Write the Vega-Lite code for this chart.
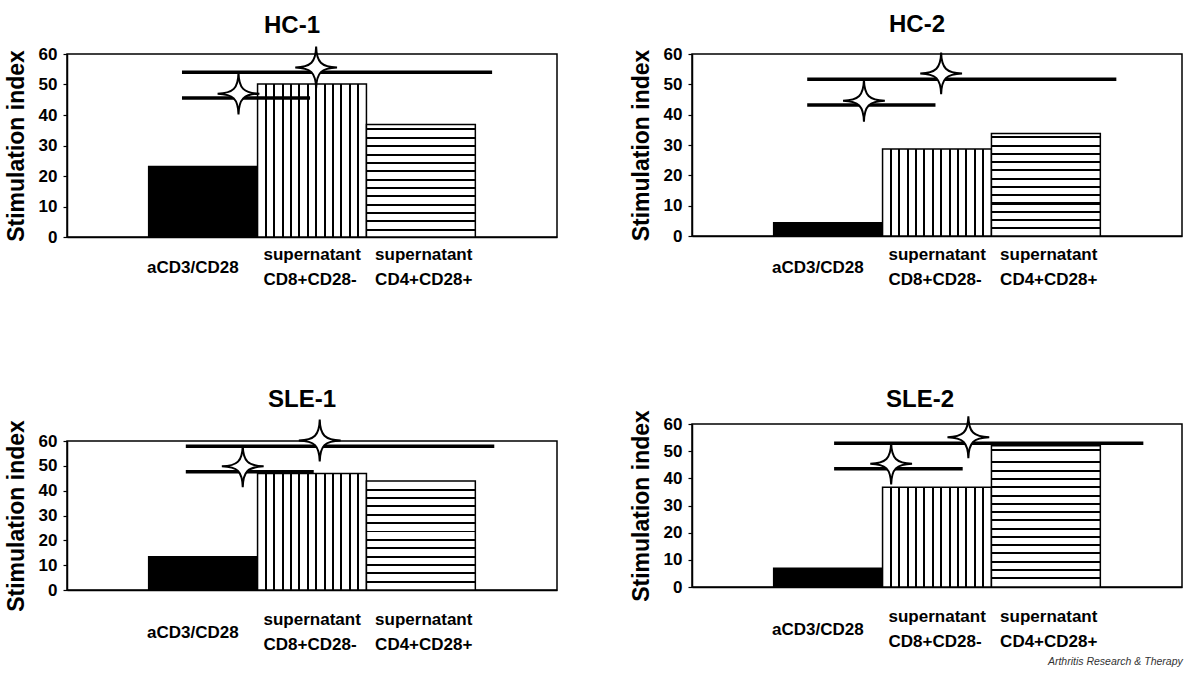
{
  "$schema": "https://vega.github.io/schema/vega-lite/v6.json",
  "background": "white",
  "padding": {"left": 4, "top": 12, "right": 10, "bottom": 2},
  "columns": 2,
  "align": "none",
  "bounds": "full",
  "spacing": {"row": 98, "column": 71},
  "title": {"text": "Arthritis Research & Therapy", "orient": "bottom", "anchor": "end", "frame": "bounds", "font": "Liberation Sans", "fontSize": 10.5, "fontStyle": "italic", "fontWeight": "normal", "color": "#333333", "offset": 4},
  "datasets": {
    "bars": [
      {"panel": "HC-1", "group": "aCD3/CD28", "pos": 0, "pos_end": 1, "value": 23.1},
      {"panel": "HC-1", "group": "supernatant CD8+CD28-", "pos": 1, "pos_end": 2, "value": 50.2},
      {"panel": "HC-1", "group": "supernatant CD4+CD28+", "pos": 2, "pos_end": 3, "value": 36.9},
      {"panel": "HC-2", "group": "aCD3/CD28", "pos": 0, "pos_end": 1, "value": 4.4},
      {"panel": "HC-2", "group": "supernatant CD8+CD28-", "pos": 1, "pos_end": 2, "value": 28.7},
      {"panel": "HC-2", "group": "supernatant CD4+CD28+", "pos": 2, "pos_end": 3, "value": 33.8},
      {"panel": "SLE-1", "group": "aCD3/CD28", "pos": 0, "pos_end": 1, "value": 13.4},
      {"panel": "SLE-1", "group": "supernatant CD8+CD28-", "pos": 1, "pos_end": 2, "value": 46.9},
      {"panel": "SLE-1", "group": "supernatant CD4+CD28+", "pos": 2, "pos_end": 3, "value": 43.9},
      {"panel": "SLE-2", "group": "aCD3/CD28", "pos": 0, "pos_end": 1, "value": 6.9},
      {"panel": "SLE-2", "group": "supernatant CD8+CD28-", "pos": 1, "pos_end": 2, "value": 36.7},
      {"panel": "SLE-2", "group": "supernatant CD4+CD28+", "pos": 2, "pos_end": 3, "value": 52.0}
    ],
    "lines": [
      {"panel": "HC-1", "pos": 0.306, "pos_end": 1.482, "value": 45.6},
      {"panel": "HC-1", "pos": 0.306, "pos_end": 3.154, "value": 54.0},
      {"panel": "HC-2", "pos": 0.308, "pos_end": 1.486, "value": 43.2},
      {"panel": "HC-2", "pos": 0.308, "pos_end": 3.147, "value": 51.7},
      {"panel": "SLE-1", "pos": 0.341, "pos_end": 1.516, "value": 47.6},
      {"panel": "SLE-1", "pos": 0.341, "pos_end": 3.174, "value": 57.9},
      {"panel": "SLE-2", "pos": 0.555, "pos_end": 1.736, "value": 43.5},
      {"panel": "SLE-2", "pos": 0.555, "pos_end": 3.395, "value": 52.9}
    ],
    "stars": [
      {"panel": "HC-1", "pos": 0.825, "value": 47.0},
      {"panel": "HC-1", "pos": 1.538, "value": 55.6},
      {"panel": "HC-2", "pos": 0.829, "value": 44.6},
      {"panel": "HC-2", "pos": 1.538, "value": 53.6},
      {"panel": "SLE-1", "pos": 0.864, "value": 49.8},
      {"panel": "SLE-1", "pos": 1.571, "value": 60.2},
      {"panel": "SLE-2", "pos": 1.079, "value": 45.4},
      {"panel": "SLE-2", "pos": 1.788, "value": 55.1}
    ]
  },
  "config": {
    "font": "Liberation Sans",
    "view": {"stroke": "black", "strokeWidth": 1.5},
    "title": {"font": "Liberation Sans", "fontSize": 24, "fontWeight": "bold", "color": "black", "anchor": "middle", "frame": "group"},
    "axis": {"grid": false, "domainColor": "black", "domainWidth": 1.5, "tickColor": "black", "tickWidth": 1.2, "labelColor": "black", "titleColor": "black", "labelFont": "Liberation Sans", "labelFontWeight": "bold", "labelFontSize": 17, "titleFont": "Liberation Sans", "titleFontWeight": "bold", "titleFontSize": 23},
    "axisX": {"ticks": false, "tickSize": 0, "labelAlign": "left", "labelLineHeight": 25, "labelFlush": false, "labelOverlap": false, "labelBound": false},
    "axisY": {"tickSize": 4, "labelPadding": 6, "titlePadding": 10}
  },
  "concat": [
    {
      "title": {"text": "HC-1", "dx": -20, "offset": 5},
      "width": 490, "height": 183,
      "encoding": {
        "x": {"field": "pos", "type": "quantitative", "scale": {"domain": [-0.75, 3.75], "nice": false, "zero": false}, "axis": {"values": [-0.02, 1.05, 2.075], "labelPadding": 22, "title": null, "labelBaseline": {"condition": {"test": "datum.value < 0.5", "value": "top"}, "value": "alphabetic"}, "labelExpr": "datum.value < 0.5 ? 'aCD3/CD28' : datum.value < 1.5 ? ['supernatant', 'CD8+CD28-'] : ['supernatant', 'CD4+CD28+']"}},
        "y": {"field": "value", "type": "quantitative", "scale": {"domain": [0, 60], "nice": false}, "axis": {"values": [0, 10, 20, 30, 40, 50, 60], "title": "Stimulation index"}}
      },
      "layer": [
        {"data": {"name": "bars"}, "transform": [{"filter": "datum.panel === 'HC-1' && datum.group === 'aCD3/CD28'"}], "mark": {"type": "rect", "fill": "black", "stroke": "black", "strokeWidth": 1.5}, "encoding": {"x2": {"field": "pos_end"}, "y2": {"datum": 0}}},
        {"data": {"name": "bars"}, "transform": [{"filter": "datum.panel === 'HC-1' && datum.group === 'supernatant CD8+CD28-'"}], "mark": {"type": "rect", "stroke": "black", "strokeWidth": 1.5, "fill": {"gradient": "linear", "x1": 0, "y1": 0, "x2": 1, "y2": 0, "stops": [
          {"offset": 0, "color": "#fff"},
          {"offset": 0.0679, "color": "#fff"}, {"offset": 0.0679, "color": "#000"}, {"offset": 0.0859, "color": "#000"}, {"offset": 0.0859, "color": "#fff"},
          {"offset": 0.1448, "color": "#fff"}, {"offset": 0.1448, "color": "#000"}, {"offset": 0.1628, "color": "#000"}, {"offset": 0.1628, "color": "#fff"},
          {"offset": 0.2218, "color": "#fff"}, {"offset": 0.2218, "color": "#000"}, {"offset": 0.2398, "color": "#000"}, {"offset": 0.2398, "color": "#fff"},
          {"offset": 0.2987, "color": "#fff"}, {"offset": 0.2987, "color": "#000"}, {"offset": 0.3167, "color": "#000"}, {"offset": 0.3167, "color": "#fff"},
          {"offset": 0.3756, "color": "#fff"}, {"offset": 0.3756, "color": "#000"}, {"offset": 0.3936, "color": "#000"}, {"offset": 0.3936, "color": "#fff"},
          {"offset": 0.4525, "color": "#fff"}, {"offset": 0.4525, "color": "#000"}, {"offset": 0.4705, "color": "#000"}, {"offset": 0.4705, "color": "#fff"},
          {"offset": 0.5295, "color": "#fff"}, {"offset": 0.5295, "color": "#000"}, {"offset": 0.5475, "color": "#000"}, {"offset": 0.5475, "color": "#fff"},
          {"offset": 0.6064, "color": "#fff"}, {"offset": 0.6064, "color": "#000"}, {"offset": 0.6244, "color": "#000"}, {"offset": 0.6244, "color": "#fff"},
          {"offset": 0.6833, "color": "#fff"}, {"offset": 0.6833, "color": "#000"}, {"offset": 0.7013, "color": "#000"}, {"offset": 0.7013, "color": "#fff"},
          {"offset": 0.7602, "color": "#fff"}, {"offset": 0.7602, "color": "#000"}, {"offset": 0.7782, "color": "#000"}, {"offset": 0.7782, "color": "#fff"},
          {"offset": 0.8372, "color": "#fff"}, {"offset": 0.8372, "color": "#000"}, {"offset": 0.8552, "color": "#000"}, {"offset": 0.8552, "color": "#fff"},
          {"offset": 0.9141, "color": "#fff"}, {"offset": 0.9141, "color": "#000"}, {"offset": 0.9321, "color": "#000"}, {"offset": 0.9321, "color": "#fff"},
          {"offset": 1, "color": "#fff"}]}}, "encoding": {"x2": {"field": "pos_end"}, "y2": {"datum": 0}}},
        {"data": {"name": "bars"}, "transform": [{"filter": "datum.panel === 'HC-1' && datum.group === 'supernatant CD4+CD28+'"}], "mark": {"type": "rect", "stroke": "black", "strokeWidth": 1.5, "fill": {"gradient": "linear", "x1": 0, "y1": 0, "x2": 0, "y2": 1, "stops": [
          {"offset": 0, "color": "#fff"},
          {"offset": 0.0355, "color": "#fff"}, {"offset": 0.0355, "color": "#000"}, {"offset": 0.0535, "color": "#000"}, {"offset": 0.0535, "color": "#fff"},
          {"offset": 0.1097, "color": "#fff"}, {"offset": 0.1097, "color": "#000"}, {"offset": 0.1277, "color": "#000"}, {"offset": 0.1277, "color": "#fff"},
          {"offset": 0.1839, "color": "#fff"}, {"offset": 0.1839, "color": "#000"}, {"offset": 0.2019, "color": "#000"}, {"offset": 0.2019, "color": "#fff"},
          {"offset": 0.2581, "color": "#fff"}, {"offset": 0.2581, "color": "#000"}, {"offset": 0.2761, "color": "#000"}, {"offset": 0.2761, "color": "#fff"},
          {"offset": 0.3323, "color": "#fff"}, {"offset": 0.3323, "color": "#000"}, {"offset": 0.3503, "color": "#000"}, {"offset": 0.3503, "color": "#fff"},
          {"offset": 0.4065, "color": "#fff"}, {"offset": 0.4065, "color": "#000"}, {"offset": 0.4245, "color": "#000"}, {"offset": 0.4245, "color": "#fff"},
          {"offset": 0.4807, "color": "#fff"}, {"offset": 0.4807, "color": "#000"}, {"offset": 0.4987, "color": "#000"}, {"offset": 0.4987, "color": "#fff"},
          {"offset": 0.5549, "color": "#fff"}, {"offset": 0.5549, "color": "#000"}, {"offset": 0.5729, "color": "#000"}, {"offset": 0.5729, "color": "#fff"},
          {"offset": 0.6291, "color": "#fff"}, {"offset": 0.6291, "color": "#000"}, {"offset": 0.6471, "color": "#000"}, {"offset": 0.6471, "color": "#fff"},
          {"offset": 0.7033, "color": "#fff"}, {"offset": 0.7033, "color": "#000"}, {"offset": 0.7213, "color": "#000"}, {"offset": 0.7213, "color": "#fff"},
          {"offset": 0.7775, "color": "#fff"}, {"offset": 0.7775, "color": "#000"}, {"offset": 0.7955, "color": "#000"}, {"offset": 0.7955, "color": "#fff"},
          {"offset": 0.8517, "color": "#fff"}, {"offset": 0.8517, "color": "#000"}, {"offset": 0.8697, "color": "#000"}, {"offset": 0.8697, "color": "#fff"},
          {"offset": 0.9259, "color": "#fff"}, {"offset": 0.9259, "color": "#000"}, {"offset": 0.9439, "color": "#000"}, {"offset": 0.9439, "color": "#fff"},
          {"offset": 1, "color": "#fff"}]}}, "encoding": {"x2": {"field": "pos_end"}, "y2": {"datum": 0}}},
        {"data": {"name": "lines"}, "transform": [{"filter": "datum.panel === 'HC-1'"}], "mark": {"type": "rule", "color": "black", "strokeWidth": 3.5}, "encoding": {"x2": {"field": "pos_end"}}},
        {"data": {"name": "stars"}, "transform": [{"filter": "datum.panel === 'HC-1'"}], "mark": {"type": "point", "shape": "M0,-1 C0.02,-0.25 0.25,-0.02 1,0 C0.25,0.02 0.02,0.25 0,1 C-0.02,0.25 -0.25,0.02 -1,0 C-0.25,-0.02 -0.02,-0.25 0,-1 Z", "size": 1750, "filled": true, "fill": "white", "stroke": "black", "strokeWidth": 2, "opacity": 1}}
      ]
    },
    {
      "title": {"text": "HC-2", "dx": -20, "offset": 8},
      "width": 490, "height": 182,
      "encoding": {
        "x": {"field": "pos", "type": "quantitative", "scale": {"domain": [-0.75, 3.75], "nice": false, "zero": false}, "axis": {"values": [-0.02, 1.05, 2.075], "labelPadding": 23, "title": null, "labelBaseline": {"condition": {"test": "datum.value < 0.5", "value": "top"}, "value": "alphabetic"}, "labelExpr": "datum.value < 0.5 ? 'aCD3/CD28' : datum.value < 1.5 ? ['supernatant', 'CD8+CD28-'] : ['supernatant', 'CD4+CD28+']"}},
        "y": {"field": "value", "type": "quantitative", "scale": {"domain": [0, 60], "nice": false}, "axis": {"values": [0, 10, 20, 30, 40, 50, 60], "title": "Stimulation index"}}
      },
      "layer": [
        {"data": {"name": "bars"}, "transform": [{"filter": "datum.panel === 'HC-2' && datum.group === 'aCD3/CD28'"}], "mark": {"type": "rect", "fill": "black", "stroke": "black", "strokeWidth": 1.5}, "encoding": {"x2": {"field": "pos_end"}, "y2": {"datum": 0}}},
        {"data": {"name": "bars"}, "transform": [{"filter": "datum.panel === 'HC-2' && datum.group === 'supernatant CD8+CD28-'"}], "mark": {"type": "rect", "stroke": "black", "strokeWidth": 1.5, "fill": {"gradient": "linear", "x1": 0, "y1": 0, "x2": 1, "y2": 0, "stops": [
          {"offset": 0, "color": "#fff"},
          {"offset": 0.0679, "color": "#fff"}, {"offset": 0.0679, "color": "#000"}, {"offset": 0.0859, "color": "#000"}, {"offset": 0.0859, "color": "#fff"},
          {"offset": 0.1448, "color": "#fff"}, {"offset": 0.1448, "color": "#000"}, {"offset": 0.1628, "color": "#000"}, {"offset": 0.1628, "color": "#fff"},
          {"offset": 0.2218, "color": "#fff"}, {"offset": 0.2218, "color": "#000"}, {"offset": 0.2398, "color": "#000"}, {"offset": 0.2398, "color": "#fff"},
          {"offset": 0.2987, "color": "#fff"}, {"offset": 0.2987, "color": "#000"}, {"offset": 0.3167, "color": "#000"}, {"offset": 0.3167, "color": "#fff"},
          {"offset": 0.3756, "color": "#fff"}, {"offset": 0.3756, "color": "#000"}, {"offset": 0.3936, "color": "#000"}, {"offset": 0.3936, "color": "#fff"},
          {"offset": 0.4525, "color": "#fff"}, {"offset": 0.4525, "color": "#000"}, {"offset": 0.4705, "color": "#000"}, {"offset": 0.4705, "color": "#fff"},
          {"offset": 0.5295, "color": "#fff"}, {"offset": 0.5295, "color": "#000"}, {"offset": 0.5475, "color": "#000"}, {"offset": 0.5475, "color": "#fff"},
          {"offset": 0.6064, "color": "#fff"}, {"offset": 0.6064, "color": "#000"}, {"offset": 0.6244, "color": "#000"}, {"offset": 0.6244, "color": "#fff"},
          {"offset": 0.6833, "color": "#fff"}, {"offset": 0.6833, "color": "#000"}, {"offset": 0.7013, "color": "#000"}, {"offset": 0.7013, "color": "#fff"},
          {"offset": 0.7602, "color": "#fff"}, {"offset": 0.7602, "color": "#000"}, {"offset": 0.7782, "color": "#000"}, {"offset": 0.7782, "color": "#fff"},
          {"offset": 0.8372, "color": "#fff"}, {"offset": 0.8372, "color": "#000"}, {"offset": 0.8552, "color": "#000"}, {"offset": 0.8552, "color": "#fff"},
          {"offset": 0.9141, "color": "#fff"}, {"offset": 0.9141, "color": "#000"}, {"offset": 0.9321, "color": "#000"}, {"offset": 0.9321, "color": "#fff"},
          {"offset": 1, "color": "#fff"}]}}, "encoding": {"x2": {"field": "pos_end"}, "y2": {"datum": 0}}},
        {"data": {"name": "bars"}, "transform": [{"filter": "datum.panel === 'HC-2' && datum.group === 'supernatant CD4+CD28+'"}], "mark": {"type": "rect", "stroke": "black", "strokeWidth": 1.5, "fill": {"gradient": "linear", "x1": 0, "y1": 0, "x2": 0, "y2": 1, "stops": [
          {"offset": 0, "color": "#fff"},
          {"offset": 0.0292, "color": "#fff"}, {"offset": 0.0292, "color": "#000"}, {"offset": 0.0488, "color": "#000"}, {"offset": 0.0488, "color": "#fff"},
          {"offset": 0.1097, "color": "#fff"}, {"offset": 0.1097, "color": "#000"}, {"offset": 0.1293, "color": "#000"}, {"offset": 0.1293, "color": "#fff"},
          {"offset": 0.1902, "color": "#fff"}, {"offset": 0.1902, "color": "#000"}, {"offset": 0.2098, "color": "#000"}, {"offset": 0.2098, "color": "#fff"},
          {"offset": 0.2707, "color": "#fff"}, {"offset": 0.2707, "color": "#000"}, {"offset": 0.2903, "color": "#000"}, {"offset": 0.2903, "color": "#fff"},
          {"offset": 0.3512, "color": "#fff"}, {"offset": 0.3512, "color": "#000"}, {"offset": 0.3708, "color": "#000"}, {"offset": 0.3708, "color": "#fff"},
          {"offset": 0.4317, "color": "#fff"}, {"offset": 0.4317, "color": "#000"}, {"offset": 0.4513, "color": "#000"}, {"offset": 0.4513, "color": "#fff"},
          {"offset": 0.5122, "color": "#fff"}, {"offset": 0.5122, "color": "#000"}, {"offset": 0.5318, "color": "#000"}, {"offset": 0.5318, "color": "#fff"},
          {"offset": 0.5927, "color": "#fff"}, {"offset": 0.5927, "color": "#000"}, {"offset": 0.6123, "color": "#000"}, {"offset": 0.6123, "color": "#fff"},
          {"offset": 0.6732, "color": "#fff"}, {"offset": 0.6732, "color": "#000"}, {"offset": 0.6928, "color": "#000"}, {"offset": 0.6928, "color": "#fff"},
          {"offset": 0.7537, "color": "#fff"}, {"offset": 0.7537, "color": "#000"}, {"offset": 0.7733, "color": "#000"}, {"offset": 0.7733, "color": "#fff"},
          {"offset": 0.8342, "color": "#fff"}, {"offset": 0.8342, "color": "#000"}, {"offset": 0.8538, "color": "#000"}, {"offset": 0.8538, "color": "#fff"},
          {"offset": 0.9147, "color": "#fff"}, {"offset": 0.9147, "color": "#000"}, {"offset": 0.9343, "color": "#000"}, {"offset": 0.9343, "color": "#fff"},
          {"offset": 1, "color": "#fff"}]}}, "encoding": {"x2": {"field": "pos_end"}, "y2": {"datum": 0}}},
        {"data": {"name": "lines"}, "transform": [{"filter": "datum.panel === 'HC-2'"}], "mark": {"type": "rule", "color": "black", "strokeWidth": 3.5}, "encoding": {"x2": {"field": "pos_end"}}},
        {"data": {"name": "stars"}, "transform": [{"filter": "datum.panel === 'HC-2'"}], "mark": {"type": "point", "shape": "M0,-1 C0.02,-0.25 0.25,-0.02 1,0 C0.25,0.02 0.02,0.25 0,1 C-0.02,0.25 -0.25,0.02 -1,0 C-0.25,-0.02 -0.02,-0.25 0,-1 Z", "size": 1750, "filled": true, "fill": "white", "stroke": "black", "strokeWidth": 2, "opacity": 1}}
      ]
    },
    {
      "title": {"text": "SLE-1", "dx": -10, "offset": 4},
      "width": 490, "height": 149,
      "encoding": {
        "x": {"field": "pos", "type": "quantitative", "scale": {"domain": [-0.75, 3.75], "nice": false, "zero": false}, "axis": {"values": [-0.02, 1.05, 2.075], "labelPadding": 34, "title": null, "labelBaseline": {"condition": {"test": "datum.value < 0.5", "value": "top"}, "value": "alphabetic"}, "labelExpr": "datum.value < 0.5 ? 'aCD3/CD28' : datum.value < 1.5 ? ['supernatant', 'CD8+CD28-'] : ['supernatant', 'CD4+CD28+']"}},
        "y": {"field": "value", "type": "quantitative", "scale": {"domain": [0, 60], "nice": false}, "axis": {"values": [0, 10, 20, 30, 40, 50, 60], "title": "Stimulation index"}}
      },
      "layer": [
        {"data": {"name": "bars"}, "transform": [{"filter": "datum.panel === 'SLE-1' && datum.group === 'aCD3/CD28'"}], "mark": {"type": "rect", "fill": "black", "stroke": "black", "strokeWidth": 1.5}, "encoding": {"x2": {"field": "pos_end"}, "y2": {"datum": 0}}},
        {"data": {"name": "bars"}, "transform": [{"filter": "datum.panel === 'SLE-1' && datum.group === 'supernatant CD8+CD28-'"}], "mark": {"type": "rect", "stroke": "black", "strokeWidth": 1.5, "fill": {"gradient": "linear", "x1": 0, "y1": 0, "x2": 1, "y2": 0, "stops": [
          {"offset": 0, "color": "#fff"},
          {"offset": 0.0679, "color": "#fff"}, {"offset": 0.0679, "color": "#000"}, {"offset": 0.0859, "color": "#000"}, {"offset": 0.0859, "color": "#fff"},
          {"offset": 0.1448, "color": "#fff"}, {"offset": 0.1448, "color": "#000"}, {"offset": 0.1628, "color": "#000"}, {"offset": 0.1628, "color": "#fff"},
          {"offset": 0.2218, "color": "#fff"}, {"offset": 0.2218, "color": "#000"}, {"offset": 0.2398, "color": "#000"}, {"offset": 0.2398, "color": "#fff"},
          {"offset": 0.2987, "color": "#fff"}, {"offset": 0.2987, "color": "#000"}, {"offset": 0.3167, "color": "#000"}, {"offset": 0.3167, "color": "#fff"},
          {"offset": 0.3756, "color": "#fff"}, {"offset": 0.3756, "color": "#000"}, {"offset": 0.3936, "color": "#000"}, {"offset": 0.3936, "color": "#fff"},
          {"offset": 0.4525, "color": "#fff"}, {"offset": 0.4525, "color": "#000"}, {"offset": 0.4705, "color": "#000"}, {"offset": 0.4705, "color": "#fff"},
          {"offset": 0.5295, "color": "#fff"}, {"offset": 0.5295, "color": "#000"}, {"offset": 0.5475, "color": "#000"}, {"offset": 0.5475, "color": "#fff"},
          {"offset": 0.6064, "color": "#fff"}, {"offset": 0.6064, "color": "#000"}, {"offset": 0.6244, "color": "#000"}, {"offset": 0.6244, "color": "#fff"},
          {"offset": 0.6833, "color": "#fff"}, {"offset": 0.6833, "color": "#000"}, {"offset": 0.7013, "color": "#000"}, {"offset": 0.7013, "color": "#fff"},
          {"offset": 0.7602, "color": "#fff"}, {"offset": 0.7602, "color": "#000"}, {"offset": 0.7782, "color": "#000"}, {"offset": 0.7782, "color": "#fff"},
          {"offset": 0.8372, "color": "#fff"}, {"offset": 0.8372, "color": "#000"}, {"offset": 0.8552, "color": "#000"}, {"offset": 0.8552, "color": "#fff"},
          {"offset": 0.9141, "color": "#fff"}, {"offset": 0.9141, "color": "#000"}, {"offset": 0.9321, "color": "#000"}, {"offset": 0.9321, "color": "#fff"},
          {"offset": 1, "color": "#fff"}]}}, "encoding": {"x2": {"field": "pos_end"}, "y2": {"datum": 0}}},
        {"data": {"name": "bars"}, "transform": [{"filter": "datum.panel === 'SLE-1' && datum.group === 'supernatant CD4+CD28+'"}], "mark": {"type": "rect", "stroke": "black", "strokeWidth": 1.5, "fill": {"gradient": "linear", "x1": 0, "y1": 0, "x2": 0, "y2": 1, "stops": [
          {"offset": 0, "color": "#fff"},
          {"offset": 0.071, "color": "#fff"}, {"offset": 0.071, "color": "#000"}, {"offset": 0.089, "color": "#000"}, {"offset": 0.089, "color": "#fff"},
          {"offset": 0.1477, "color": "#fff"}, {"offset": 0.1477, "color": "#000"}, {"offset": 0.1657, "color": "#000"}, {"offset": 0.1657, "color": "#fff"},
          {"offset": 0.2244, "color": "#fff"}, {"offset": 0.2244, "color": "#000"}, {"offset": 0.2424, "color": "#000"}, {"offset": 0.2424, "color": "#fff"},
          {"offset": 0.3011, "color": "#fff"}, {"offset": 0.3011, "color": "#000"}, {"offset": 0.3191, "color": "#000"}, {"offset": 0.3191, "color": "#fff"},
          {"offset": 0.3778, "color": "#fff"}, {"offset": 0.3778, "color": "#000"}, {"offset": 0.3958, "color": "#000"}, {"offset": 0.3958, "color": "#fff"},
          {"offset": 0.4545, "color": "#fff"}, {"offset": 0.4545, "color": "#000"}, {"offset": 0.4725, "color": "#000"}, {"offset": 0.4725, "color": "#fff"},
          {"offset": 0.5312, "color": "#fff"}, {"offset": 0.5312, "color": "#000"}, {"offset": 0.5492, "color": "#000"}, {"offset": 0.5492, "color": "#fff"},
          {"offset": 0.6079, "color": "#fff"}, {"offset": 0.6079, "color": "#000"}, {"offset": 0.6259, "color": "#000"}, {"offset": 0.6259, "color": "#fff"},
          {"offset": 0.6846, "color": "#fff"}, {"offset": 0.6846, "color": "#000"}, {"offset": 0.7026, "color": "#000"}, {"offset": 0.7026, "color": "#fff"},
          {"offset": 0.7613, "color": "#fff"}, {"offset": 0.7613, "color": "#000"}, {"offset": 0.7793, "color": "#000"}, {"offset": 0.7793, "color": "#fff"},
          {"offset": 0.838, "color": "#fff"}, {"offset": 0.838, "color": "#000"}, {"offset": 0.856, "color": "#000"}, {"offset": 0.856, "color": "#fff"},
          {"offset": 0.9147, "color": "#fff"}, {"offset": 0.9147, "color": "#000"}, {"offset": 0.9327, "color": "#000"}, {"offset": 0.9327, "color": "#fff"},
          {"offset": 1, "color": "#fff"}]}}, "encoding": {"x2": {"field": "pos_end"}, "y2": {"datum": 0}}},
        {"data": {"name": "lines"}, "transform": [{"filter": "datum.panel === 'SLE-1'"}], "mark": {"type": "rule", "color": "black", "strokeWidth": 3.5}, "encoding": {"x2": {"field": "pos_end"}}},
        {"data": {"name": "stars"}, "transform": [{"filter": "datum.panel === 'SLE-1'"}], "mark": {"type": "point", "shape": "M0,-1 C0.02,-0.25 0.25,-0.02 1,0 C0.25,0.02 0.02,0.25 0,1 C-0.02,0.25 -0.25,0.02 -1,0 C-0.25,-0.02 -0.02,-0.25 0,-1 Z", "size": 1750, "filled": true, "fill": "white", "stroke": "black", "strokeWidth": 2, "opacity": 1}}
      ]
    },
    {
      "title": {"text": "SLE-2", "dx": -17, "offset": -2},
      "width": 490, "height": 163,
      "encoding": {
        "x": {"field": "pos", "type": "quantitative", "scale": {"domain": [-0.75, 3.75], "nice": false, "zero": false}, "axis": {"values": [-0.02, 1.05, 2.075], "labelPadding": 34, "title": null, "labelBaseline": {"condition": {"test": "datum.value < 0.5", "value": "top"}, "value": "alphabetic"}, "labelExpr": "datum.value < 0.5 ? 'aCD3/CD28' : datum.value < 1.5 ? ['supernatant', 'CD8+CD28-'] : ['supernatant', 'CD4+CD28+']"}},
        "y": {"field": "value", "type": "quantitative", "scale": {"domain": [0, 60], "nice": false}, "axis": {"values": [0, 10, 20, 30, 40, 50, 60], "title": "Stimulation index"}}
      },
      "layer": [
        {"data": {"name": "bars"}, "transform": [{"filter": "datum.panel === 'SLE-2' && datum.group === 'aCD3/CD28'"}], "mark": {"type": "rect", "fill": "black", "stroke": "black", "strokeWidth": 1.5}, "encoding": {"x2": {"field": "pos_end"}, "y2": {"datum": 0}}},
        {"data": {"name": "bars"}, "transform": [{"filter": "datum.panel === 'SLE-2' && datum.group === 'supernatant CD8+CD28-'"}], "mark": {"type": "rect", "stroke": "black", "strokeWidth": 1.5, "fill": {"gradient": "linear", "x1": 0, "y1": 0, "x2": 1, "y2": 0, "stops": [
          {"offset": 0, "color": "#fff"},
          {"offset": 0.0679, "color": "#fff"}, {"offset": 0.0679, "color": "#000"}, {"offset": 0.0859, "color": "#000"}, {"offset": 0.0859, "color": "#fff"},
          {"offset": 0.1448, "color": "#fff"}, {"offset": 0.1448, "color": "#000"}, {"offset": 0.1628, "color": "#000"}, {"offset": 0.1628, "color": "#fff"},
          {"offset": 0.2218, "color": "#fff"}, {"offset": 0.2218, "color": "#000"}, {"offset": 0.2398, "color": "#000"}, {"offset": 0.2398, "color": "#fff"},
          {"offset": 0.2987, "color": "#fff"}, {"offset": 0.2987, "color": "#000"}, {"offset": 0.3167, "color": "#000"}, {"offset": 0.3167, "color": "#fff"},
          {"offset": 0.3756, "color": "#fff"}, {"offset": 0.3756, "color": "#000"}, {"offset": 0.3936, "color": "#000"}, {"offset": 0.3936, "color": "#fff"},
          {"offset": 0.4525, "color": "#fff"}, {"offset": 0.4525, "color": "#000"}, {"offset": 0.4705, "color": "#000"}, {"offset": 0.4705, "color": "#fff"},
          {"offset": 0.5295, "color": "#fff"}, {"offset": 0.5295, "color": "#000"}, {"offset": 0.5475, "color": "#000"}, {"offset": 0.5475, "color": "#fff"},
          {"offset": 0.6064, "color": "#fff"}, {"offset": 0.6064, "color": "#000"}, {"offset": 0.6244, "color": "#000"}, {"offset": 0.6244, "color": "#fff"},
          {"offset": 0.6833, "color": "#fff"}, {"offset": 0.6833, "color": "#000"}, {"offset": 0.7013, "color": "#000"}, {"offset": 0.7013, "color": "#fff"},
          {"offset": 0.7602, "color": "#fff"}, {"offset": 0.7602, "color": "#000"}, {"offset": 0.7782, "color": "#000"}, {"offset": 0.7782, "color": "#fff"},
          {"offset": 0.8372, "color": "#fff"}, {"offset": 0.8372, "color": "#000"}, {"offset": 0.8552, "color": "#000"}, {"offset": 0.8552, "color": "#fff"},
          {"offset": 0.9141, "color": "#fff"}, {"offset": 0.9141, "color": "#000"}, {"offset": 0.9321, "color": "#000"}, {"offset": 0.9321, "color": "#fff"},
          {"offset": 1, "color": "#fff"}]}}, "encoding": {"x2": {"field": "pos_end"}, "y2": {"datum": 0}}},
        {"data": {"name": "bars"}, "transform": [{"filter": "datum.panel === 'SLE-2' && datum.group === 'supernatant CD4+CD28+'"}], "mark": {"type": "rect", "stroke": "black", "strokeWidth": 1.5, "fill": {"gradient": "linear", "x1": 0, "y1": 0, "x2": 0, "y2": 1, "stops": [
          {"offset": 0, "color": "#fff"},
          {"offset": 0.02, "color": "#fff"}, {"offset": 0.02, "color": "#000"}, {"offset": 0.04, "color": "#000"}, {"offset": 0.04, "color": "#fff"},
          {"offset": 0.1115, "color": "#fff"}, {"offset": 0.1115, "color": "#000"}, {"offset": 0.1255, "color": "#000"}, {"offset": 0.1255, "color": "#fff"},
          {"offset": 0.17, "color": "#fff"}, {"offset": 0.17, "color": "#000"}, {"offset": 0.184, "color": "#000"}, {"offset": 0.184, "color": "#fff"},
          {"offset": 0.2285, "color": "#fff"}, {"offset": 0.2285, "color": "#000"}, {"offset": 0.2425, "color": "#000"}, {"offset": 0.2425, "color": "#fff"},
          {"offset": 0.287, "color": "#fff"}, {"offset": 0.287, "color": "#000"}, {"offset": 0.301, "color": "#000"}, {"offset": 0.301, "color": "#fff"},
          {"offset": 0.3455, "color": "#fff"}, {"offset": 0.3455, "color": "#000"}, {"offset": 0.3595, "color": "#000"}, {"offset": 0.3595, "color": "#fff"},
          {"offset": 0.404, "color": "#fff"}, {"offset": 0.404, "color": "#000"}, {"offset": 0.418, "color": "#000"}, {"offset": 0.418, "color": "#fff"},
          {"offset": 0.4625, "color": "#fff"}, {"offset": 0.4625, "color": "#000"}, {"offset": 0.4765, "color": "#000"}, {"offset": 0.4765, "color": "#fff"},
          {"offset": 0.521, "color": "#fff"}, {"offset": 0.521, "color": "#000"}, {"offset": 0.535, "color": "#000"}, {"offset": 0.535, "color": "#fff"},
          {"offset": 0.5795, "color": "#fff"}, {"offset": 0.5795, "color": "#000"}, {"offset": 0.5935, "color": "#000"}, {"offset": 0.5935, "color": "#fff"},
          {"offset": 0.638, "color": "#fff"}, {"offset": 0.638, "color": "#000"}, {"offset": 0.652, "color": "#000"}, {"offset": 0.652, "color": "#fff"},
          {"offset": 0.6965, "color": "#fff"}, {"offset": 0.6965, "color": "#000"}, {"offset": 0.7105, "color": "#000"}, {"offset": 0.7105, "color": "#fff"},
          {"offset": 0.755, "color": "#fff"}, {"offset": 0.755, "color": "#000"}, {"offset": 0.769, "color": "#000"}, {"offset": 0.769, "color": "#fff"},
          {"offset": 0.8135, "color": "#fff"}, {"offset": 0.8135, "color": "#000"}, {"offset": 0.8275, "color": "#000"}, {"offset": 0.8275, "color": "#fff"},
          {"offset": 0.872, "color": "#fff"}, {"offset": 0.872, "color": "#000"}, {"offset": 0.886, "color": "#000"}, {"offset": 0.886, "color": "#fff"},
          {"offset": 0.9305, "color": "#fff"}, {"offset": 0.9305, "color": "#000"}, {"offset": 0.9445, "color": "#000"}, {"offset": 0.9445, "color": "#fff"},
          {"offset": 1, "color": "#fff"}]}}, "encoding": {"x2": {"field": "pos_end"}, "y2": {"datum": 0}}},
        {"data": {"name": "lines"}, "transform": [{"filter": "datum.panel === 'SLE-2'"}], "mark": {"type": "rule", "color": "black", "strokeWidth": 3.5}, "encoding": {"x2": {"field": "pos_end"}}},
        {"data": {"name": "stars"}, "transform": [{"filter": "datum.panel === 'SLE-2'"}], "mark": {"type": "point", "shape": "M0,-1 C0.02,-0.25 0.25,-0.02 1,0 C0.25,0.02 0.02,0.25 0,1 C-0.02,0.25 -0.25,0.02 -1,0 C-0.25,-0.02 -0.02,-0.25 0,-1 Z", "size": 1750, "filled": true, "fill": "white", "stroke": "black", "strokeWidth": 2, "opacity": 1}}
      ]
    }
  ]
}
